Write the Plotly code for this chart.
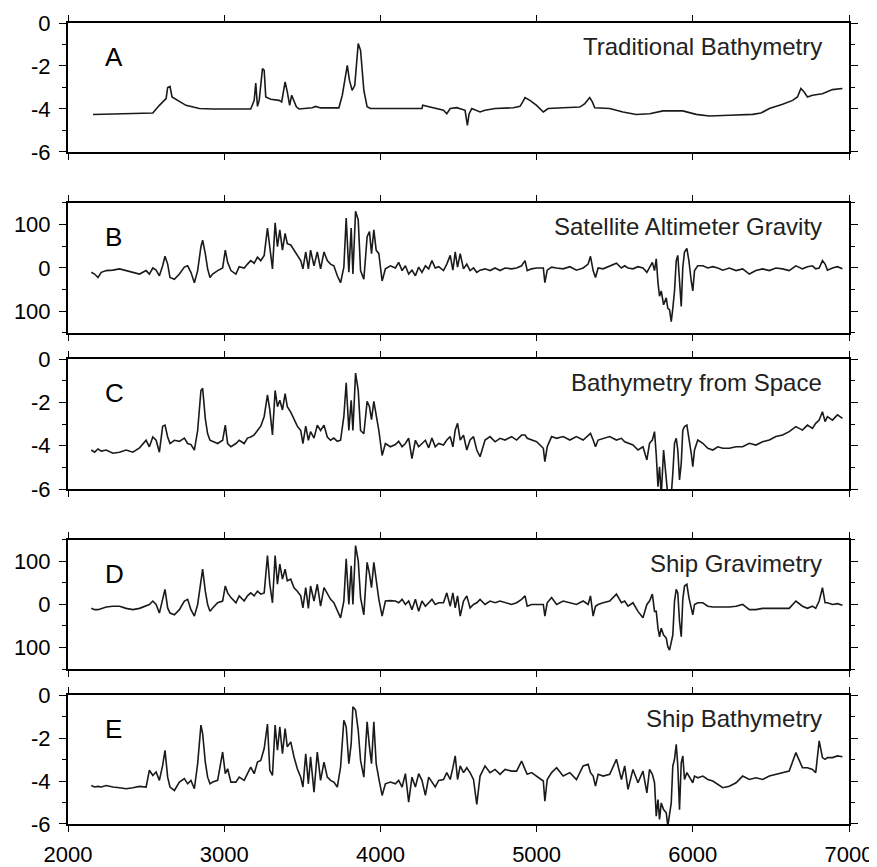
import plotly.graph_objects as go

# ---------------- data (km along track) ----------------
# Panel A: traditional bathymetry (km)
km_a = [2160, 2543, 2585, 2628, 2638, 2653, 2666, 2702, 2755, 2841,
        2926, 3170, 3192, 3202, 3213, 3224, 3245, 3256, 3266, 3298,
        3351, 3368, 3390, 3404, 3419, 3432, 3447, 3462, 3479, 3564,
        3585, 3617, 3734, 3756, 3788, 3802, 3819, 3836, 3858, 3873,
        3894, 3915, 3936, 4266, 4271, 4373,
        4404, 4425, 4447, 4489, 4542, 4557, 4568, 4585, 4617, 4638,
        4670, 4734, 4851, 4894, 4911, 4926, 4957, 5000, 5043, 5074,
        5170, 5277, 5309, 5340, 5357, 5372, 5468, 5553, 5638, 5724,
        5809, 5936, 6021, 6106, 6234, 6383, 6436, 6490, 6575, 6639,
        6670, 6692, 6713, 6734, 6766, 6830, 6894, 6958]
depth_trad = [-4.26, -4.19, -3.83, -3.52, -3.0, -2.95, -3.44, -3.6, -3.83, -3.98,
              -4.0, -4.0, -3.6, -2.8, -3.88, -3.6, -2.12, -2.2, -3.44, -3.55,
              -3.6, -3.67, -2.74, -3.2, -3.83, -3.36, -3.6, -3.9, -4.0, -3.94,
              -3.88, -3.95, -3.95, -3.36, -1.97, -2.67, -3.13, -2.9, -0.96, -1.27,
              -3.13, -3.9, -3.98, -3.98, -3.83, -3.98,
              -4.06, -4.22, -3.98, -3.94, -4.06, -4.76, -4.22, -3.98, -4.06, -4.14,
              -4.06, -3.98, -3.94, -3.88, -3.67, -3.47, -3.6, -3.83, -4.14, -3.98,
              -3.94, -3.91, -3.75, -3.47, -3.67, -3.94, -3.98, -4.14, -4.26, -4.22,
              -4.09, -4.09, -4.25, -4.33, -4.29, -4.25, -4.19, -3.98, -3.78, -3.6,
              -3.44, -3.05, -3.21, -3.44, -3.36, -3.29, -3.1, -3.05]

# Shared along-track sample positions for panels B-E (km)
km_grid = [2149, 2170, 2192, 2213, 2245, 2287, 2330, 2372, 2415, 2458,
           2500, 2521, 2543, 2564, 2585, 2606, 2621, 2638, 2653, 2681,
           2713, 2745, 2766, 2787, 2809, 2830, 2851, 2862, 2879, 2894,
           2909, 2926, 2958, 2990, 3007, 3022, 3043, 3075, 3096, 3128,
           3149, 3170, 3192, 3213, 3234, 3256, 3277, 3292, 3309, 3326,
           3341, 3356, 3373, 3390, 3404, 3426, 3447, 3468, 3490, 3504,
           3522, 3539, 3553, 3575, 3596, 3617, 3639, 3660, 3681, 3702,
           3724, 3745, 3766, 3781, 3798, 3813, 3824, 3841, 3858, 3873,
           3894, 3915, 3930, 3943, 3958, 3973, 3990, 4011, 4032, 4064,
           4096, 4117, 4139, 4160, 4181, 4202, 4224, 4245, 4266, 4288,
           4309, 4330, 4351, 4373,
           4404, 4425, 4447, 4464, 4479, 4494, 4511, 4532, 4553, 4574,
           4596, 4617, 4638, 4670, 4702, 4734, 4766, 4798, 4840, 4872,
           4904, 4926, 4940, 4968, 5000, 5043, 5053, 5068, 5096, 5128,
           5170, 5213, 5255, 5298, 5330, 5345, 5362, 5377, 5394, 5426,
           5468, 5511, 5543, 5564, 5585, 5617, 5649, 5681, 5706, 5723,
           5741, 5755, 5766, 5777, 5787, 5798, 5813, 5830, 5840, 5851,
           5862, 5872, 5883, 5894, 5904, 5915, 5926, 5936, 5947, 5962,
           5975, 5990, 6000, 6011, 6032, 6064, 6096, 6128, 6160, 6192,
           6234, 6277, 6319, 6362, 6404, 6447, 6490, 6532, 6575, 6617,
           6660, 6702, 6734, 6766, 6787, 6809, 6830, 6847, 6862, 6894,
           6926, 6958]

# Panel B: satellite altimeter gravity (mGal)
grav_sat = [-10, -14, -22, -10, -6, -5, -2, -6, -10, -14,
            -6, -14, 0, -5, -18, 5, 27, 9, -22, -26,
            -14, 2, 5, -10, -34, -6, 49, 64, 33, -2,
            -22, -14, -6, 0, 41, 13, -6, -14, 3, 0,
            9, 17, 11, 25, 17, 29, 92, 49, -2, 104,
            49, 88, 41, 80, 56, 53, 41, 29, 17, -2,
            37, -2, 41, 5, 37, -2, 37, 17, 9, 5,
            -18, -34, 2, 115, -10, 92, -14, 131, 111, -6,
            -26, 72, 84, 33, 88, 41, 33, -30, -2, 5,
            0, 13, -6, 5, -14, -5, -18, 2, -10, 5,
            -2, 17, 0, 3,
            -6, 9, 29, -5, 37, 2, 33, -2, 9, -6,
            0, -10, -5, -2, -6, 0, -6, 0, -2, 0,
            5, 17, -6, -2, 0, 0, -34, -5, 2, 0,
            -2, 3, -5, 0, 9, 27, -6, -22, 0, -2,
            5, 11, 0, 5, 0, -2, 3, 0, -10, 2,
            13, -6, 21, -34, -65, -53, -85, -69, -93, -96,
            -124, -93, -53, 17, 29, -30, -89, 2, 37, 45,
            17, -30, -53, -6, 5, 5, 0, 3, 0, -5,
            0, -6, -2, -14, -6, -2, -6, 0, -2, -6,
            5, -2, 3, 5, -2, 0, 17, 9, -5, 0,
            3, -2]

# Panel C: bathymetry from space (km)
depth_space = [-4.2, -4.3, -4.15, -4.25, -4.2, -4.35, -4.3, -4.2, -4.3, -4.1,
               -3.75, -4.05, -3.6, -3.75, -4.3, -3.1, -3.05, -3.6, -3.9, -3.75,
               -3.8, -3.65, -3.9, -3.95, -4.2, -3.3, -1.45, -1.35, -2.75, -3.45,
               -3.75, -3.8, -3.9, -3.75, -3.05, -3.9, -4.05, -3.9, -3.75, -3.9,
               -3.65, -3.6, -3.5, -3.3, -3.1, -2.65, -1.65, -2.35, -3.5, -1.45,
               -2.2, -1.9, -2.35, -1.6, -2.2, -2.45, -2.8, -3.1, -3.3, -3.9,
               -3.1, -3.75, -3.35, -3.65, -3.05, -3.3, -3.05, -3.6, -3.75, -3.65,
               -3.8, -3.75, -2.65, -1.1, -3.3, -1.9, -3.3, -0.65, -1.45, -3.3,
               -3.45, -1.95, -2.2, -2.8, -1.95, -2.5, -3.3, -4.45, -3.9, -4.05,
               -3.95, -3.8, -4.05, -3.9, -3.65, -4.6, -3.75, -4.05, -3.9, -3.75,
               -4.1, -3.65, -4.05, -3.9,
               -3.97, -3.74, -3.58, -4.05, -3.28, -2.97, -3.74, -3.51, -4.2, -3.74,
               -3.58, -4.2, -4.51, -3.74, -3.58, -3.82, -3.66, -3.74, -3.58, -3.74,
               -3.51, -3.51, -3.66, -3.74, -3.82, -4.12, -4.74, -4.05, -3.58, -3.66,
               -3.58, -3.74, -3.58, -3.74, -3.51, -3.43, -3.74, -4.05, -3.74, -3.66,
               -3.58, -3.74, -3.66, -3.82, -3.89, -3.97, -4.2, -4.05, -4.66, -3.89,
               -3.74, -3.35, -4.43, -5.89, -4.97, -6.3, -4.2, -5.74, -6.3, -6.3,
               -6.3, -5.28, -3.89, -3.66, -4.2, -5.58, -4.82, -3.28, -3.12, -3.05,
               -3.58, -4.35, -4.97, -4.2, -3.74, -3.89, -4.12, -4.2, -4.05, -4.12,
               -4.12, -4.05, -4.05, -3.89, -3.97, -3.82, -3.74, -3.58, -3.51, -3.35,
               -3.12, -3.28, -3.05, -3.2, -2.97, -2.82, -2.43, -2.89, -2.66, -2.82,
               -2.58, -2.74]

# Panel D: ship gravimetry (mGal)
grav_ship = [-9, -12, -12, -9, -6, -4, -4, -9, -12, -9,
             -4, 0, 8, 0, -20, 16, 35, -8, -20, -24,
             -12, 8, 12, -12, -27, 0, 55, 82, 31, 0,
             -16, -8, 4, 8, 43, 27, 16, 4, 20, 8,
             20, 27, 20, 31, 24, 27, 114, 47, 4, 114,
             47, 94, 59, 82, 55, 59, 39, 31, 20, -8,
             39, -9, 43, 8, 47, -4, 39, 27, 12, 4,
             -16, -31, 8, 106, 0, 90, 0, 137, 102, 16,
             -24, 98, 71, 39, 98, 55, 12, -27, 8, 9,
             8, 4, 12, 0, 8, -12, 12, -16, 8, -4,
             4, 12, 0, 4,
             4, 27, -4, 27, -8, 20, -27, 8, 20, -8,
             0, 4, 12, 0, 8, 4, 8, 4, 0, 4,
             12, 20, -4, 0, 0, 0, -27, 4, 16, 0,
             8, 4, 0, 8, 0, 20, -27, -4, 0, 4,
             8, 24, 4, 8, -4, 4, -16, -31, 0, 8,
             24, -16, -16, -55, -75, -55, -71, -78, -98, -106,
             -86, -71, 8, 35, 27, -39, -75, 12, 43, 47,
             16, -12, -24, 0, 4, 4, -4, -6, -6, -6,
             -6, -4, 0, -12, -12, -9, -9, -9, -8, -9,
             8, -4, -9, -4, -9, 8, 39, 4, 4, 0,
             2, -2]

# Panel E: ship bathymetry (km)
depth_ship = [-4.21, -4.28, -4.25, -4.28, -4.21, -4.28, -4.31, -4.36, -4.31, -4.25,
              -4.28, -3.5, -3.74, -3.58, -3.97, -3.27, -2.57, -3.82, -4.28, -4.44,
              -4.05, -3.89, -4.13, -3.97, -4.36, -3.19, -1.4, -1.79, -3.12, -3.82,
              -4.13, -4.05, -3.97, -2.65, -3.66, -3.43, -4.05, -4.05, -3.82, -3.97,
              -3.66, -3.35, -3.66, -3.12, -3.04, -2.49, -1.35, -3.5, -3.74, -1.4,
              -2.57, -1.48, -2.73, -1.56, -2.41, -2.18, -2.88, -3.43, -3.82, -4.28,
              -2.73, -4.13, -2.88, -4.52, -2.65, -3.97, -3.12, -3.82, -3.97, -4.05,
              -4.28, -3.35, -1.17, -1.48, -3.19, -2.26, -0.55, -0.7, -1.64, -3.04,
              -3.82, -1.25, -2.41, -3.19, -1.25, -3.19, -3.89, -4.67, -4.13, -4.05,
              -4.13, -3.97, -4.28, -3.66, -4.98, -3.82, -4.28, -3.66, -3.97, -4.67,
              -3.82, -4.05, -4.28, -3.97,
              -3.93, -3.61, -3.93, -3.38, -2.83, -3.93, -3.3, -3.61, -3.38, -3.61,
              -3.93, -5.09, -3.77, -3.3, -3.61, -3.46, -3.69, -3.46, -3.54, -3.54,
              -3.07, -3.46, -3.69, -3.61, -3.77, -4.0, -4.94, -3.93, -3.61, -3.38,
              -3.77, -3.61, -3.93, -3.3, -3.22, -3.61, -3.77, -4.24, -3.69, -3.77,
              -3.69, -2.99, -3.93, -3.3, -4.39, -3.46, -4.08, -3.54, -4.55, -3.46,
              -3.69, -4.08, -5.64, -4.86, -5.79, -5.02, -5.33, -5.48, -6.1, -5.48,
              -5.02, -3.3, -2.99, -2.29, -3.3, -5.33, -3.15, -2.83, -3.93, -3.61,
              -3.77, -3.93, -4.08, -3.77, -3.85, -3.77, -3.93, -4.0, -4.16, -4.31,
              -4.24, -4.08, -3.77, -3.93, -3.85, -3.93, -3.77, -3.69, -3.61, -3.54,
              -2.68, -3.38, -3.38, -3.46, -3.61, -2.13, -2.91, -2.99, -2.91, -2.91,
              -2.83, -2.87]

panel_letters = ["A", "B", "C", "D", "E"]
panel_titles = ["Traditional Bathymetry", "Satellite Altimeter Gravity",
                "Bathymetry from Space", "Ship Gravimetry", "Ship Bathymetry"]
x_tick_vals = [2000, 3000, 4000, 5000, 6000, 7000]
depth_tick_vals = [-6, -4, -2, 0]
depth_tick_text = ["-6", "-4", "-2", "0"]
grav_tick_vals = [-100, 0, 100]
grav_tick_text = ["100", "0", "100"]

for arr in (grav_sat, depth_space, grav_ship, depth_ship):
    assert len(arr) == len(km_grid), (len(arr), len(km_grid))
assert len(km_a) == len(depth_trad)

# ---------------- figure ----------------
# (the page body keeps its default 8 px margin, so the figure is 8 px smaller)
FONT = "Liberation Sans, Arial, Helvetica, sans-serif"
series = [(km_a, depth_trad, "depth"), (km_grid, grav_sat, "grav"),
          (km_grid, depth_space, "depth"), (km_grid, grav_ship, "grav"),
          (km_grid, depth_ship, "depth")]
domains = [[0.839, 1.0], [0.613, 0.7753], [0.4182, 0.5805],
           [0.1935, 0.3546], [0.0, 0.161]]

fig = go.Figure()
layout = dict(
    template="none",
    width=869, height=859,
    margin=dict(l=60, r=28, t=15, b=43, autoexpand=False),
    paper_bgcolor="white", plot_bgcolor="white",
    showlegend=False,
    font=dict(family=FONT, color="black"),
)
annotations = []
for i, (xs, ys, kind) in enumerate(series):
    n = i + 1
    s = "" if n == 1 else str(n)
    fig.add_trace(go.Scatter(x=xs, y=ys, mode="lines", xaxis="x" + s, yaxis="y" + s,
                             line=dict(color="#1a1a1a", width=1.6),
                             hoverinfo="skip"))
    layout["xaxis" + s] = dict(
        domain=[0, 1], range=[2000, 7000], anchor="y" + s, automargin=False,
        tickmode="array", tickvals=x_tick_vals,
        ticktext=[str(v) for v in x_tick_vals],
        showticklabels=(n == 5), ticks="outside", ticklen=6, tickwidth=1,
        tickcolor="black", showline=True, linecolor="black", linewidth=2,
        mirror="ticks", showgrid=False, zeroline=False, ticklabelstandoff=4,
        tickfont=dict(size=22, family=FONT, color="black"),
    )
    if kind == "depth":
        yr, tv, tt, mv = [-6, 0], depth_tick_vals, depth_tick_text, [-5, -3, -1]
    else:
        yr, tv, tt, mv = [-150, 150], grav_tick_vals, grav_tick_text, [-150, -50, 50, 150]
    layout["yaxis" + s] = dict(
        domain=domains[i], range=yr, anchor="x" + s, automargin=False,
        tickmode="array", tickvals=tv, ticktext=tt,
        ticks="outside", ticklen=7, tickwidth=1, tickcolor="black",
        minor=dict(tickmode="array", tickvals=mv, ticks="outside", ticklen=4,
                   tickcolor="black", showgrid=False),
        showline=True, linecolor="black", linewidth=2, mirror="ticks",
        showgrid=False, zeroline=False, ticklabelstandoff=4,
        tickfont=dict(size=22, family=FONT, color="black"),
    )
    xd = "x domain" if n == 1 else "x%d domain" % n
    yd = "y domain" if n == 1 else "y%d domain" % n
    annotations.append(dict(text=panel_letters[i], xref=xd, yref=yd,
                            x=0.045, y=0.735, xanchor="left", yanchor="middle",
                            showarrow=False, font=dict(size=26, family=FONT, color="black")))
    annotations.append(dict(text=panel_titles[i], xref=xd, yref=yd,
                            x=0.968, y=0.82, xanchor="right", yanchor="middle",
                            showarrow=False, font=dict(size=24, family=FONT, color="#222")))
layout["annotations"] = annotations
fig.update_layout(**layout)
fig.write_html("out.html")
